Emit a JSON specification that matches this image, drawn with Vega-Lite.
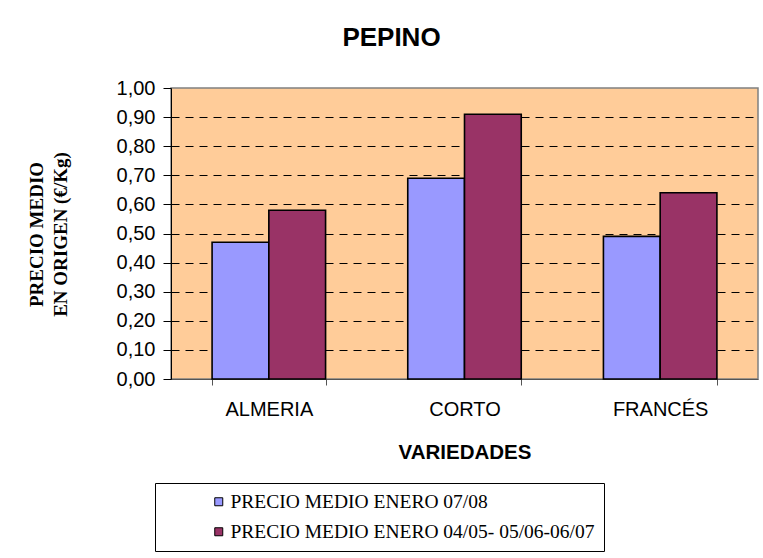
{
  "$schema": "https://vega.github.io/schema/vega-lite/v6.json",
  "width": 587,
  "height": 291,
  "autosize": {"type": "none"},
  "padding": {"left": 171, "top": 88, "right": 5, "bottom": 179},
  "background": "white",
  "title": {
    "text": "PEPINO",
    "font": "Liberation Sans",
    "fontSize": 26,
    "fontWeight": "bold",
    "color": "black",
    "anchor": "middle",
    "dx": -73,
    "offset": 6,
    "baseline": "alphabetic"
  },
  "data": {
    "values": [
      {"variedad": "ALMERIA", "serie": "PRECIO MEDIO ENERO 07/08", "precio": 0.47},
      {"variedad": "ALMERIA", "serie": "PRECIO MEDIO ENERO 04/05- 05/06-06/07", "precio": 0.58},
      {"variedad": "CORTO", "serie": "PRECIO MEDIO ENERO 07/08", "precio": 0.69},
      {"variedad": "CORTO", "serie": "PRECIO MEDIO ENERO 04/05- 05/06-06/07", "precio": 0.91},
      {"variedad": "FRANCÉS", "serie": "PRECIO MEDIO ENERO 07/08", "precio": 0.49},
      {"variedad": "FRANCÉS", "serie": "PRECIO MEDIO ENERO 04/05- 05/06-06/07", "precio": 0.64}
    ]
  },
  "mark": {"type": "bar", "stroke": "black", "strokeWidth": 1.6},
  "encoding": {
    "x": {
      "field": "variedad",
      "type": "nominal",
      "sort": ["ALMERIA", "CORTO", "FRANCÉS"],
      "scale": {"paddingInner": 0.42, "paddingOuter": 0.21},
      "axis": {
        "title": "VARIEDADES",
        "titleFont": "Liberation Sans",
        "titleFontSize": 20.5,
        "titleFontWeight": "bold",
        "titleColor": "black",
        "titleBaseline": "alphabetic",
        "titleY": 79,
        "labelAngle": 0,
        "labelFont": "Liberation Sans",
        "labelFontSize": 20,
        "labelColor": "black",
        "labelPadding": 14,
        "tickBand": "extent",
        "tickSize": 6,
        "tickColor": "#555555",
        "domainColor": "#555555",
        "grid": false
      }
    },
    "xOffset": {
      "field": "serie",
      "type": "nominal",
      "sort": ["PRECIO MEDIO ENERO 07/08", "PRECIO MEDIO ENERO 04/05- 05/06-06/07"],
      "scale": {"paddingInner": 0, "paddingOuter": 0}
    },
    "y": {
      "field": "precio",
      "type": "quantitative",
      "scale": {"domain": [0, 1], "nice": false},
      "axis": {
        "values": [0, 0.1, 0.2, 0.3, 0.4, 0.5, 0.6, 0.7, 0.8, 0.9, 1.0],
        "labelExpr": "replace(format(datum.value, '.2f'), '.', ',')",
        "labelFont": "Liberation Sans",
        "labelFontSize": 20,
        "labelColor": "black",
        "labelPadding": 8,
        "tickSize": 8,
        "tickColor": "black",
        "domainColor": "black",
        "grid": true,
        "gridColor": {"condition": {"test": "datum.value >= 1 || datum.value <= 0", "value": "transparent"}, "value": "black"},
        "gridDash": [8, 6],
        "gridWidth": 1,
        "title": ["PRECIO MEDIO", "EN ORIGEN (€/Kg)"],
        "titleFont": "Liberation Serif",
        "titleFontSize": 19,
        "titleFontWeight": "bold",
        "titleColor": "black",
        "titleAngle": 270,
        "titleAlign": "center",
        "titleBaseline": "alphabetic",
        "titleLineHeight": 24,
        "titleX": -129,
        "titleY": 146
      }
    },
    "color": {
      "field": "serie",
      "type": "nominal",
      "sort": ["PRECIO MEDIO ENERO 07/08", "PRECIO MEDIO ENERO 04/05- 05/06-06/07"],
      "scale": {
        "domain": ["PRECIO MEDIO ENERO 07/08", "PRECIO MEDIO ENERO 04/05- 05/06-06/07"],
        "range": ["#9999FF", "#993366"]
      },
      "legend": {
        "title": null,
        "orient": "none",
        "legendX": -16,
        "legendY": 395,
        "fillColor": "white",
        "strokeColor": "black",
        "padding": 9,
        "symbolType": "square",
        "symbolSize": 64,
        "symbolStrokeColor": "black",
        "symbolStrokeWidth": 1,
        "symbolOffset": 45,
        "labelFont": "Liberation Serif",
        "labelFontSize": 19.5,
        "labelColor": "black",
        "labelOffset": 2,
        "labelLimit": 0,
        "rowPadding": 9
      }
    }
  },
  "config": {
    "view": {"fill": "#FFCC99", "stroke": "#808080", "strokeWidth": 1.5}
  }
}
